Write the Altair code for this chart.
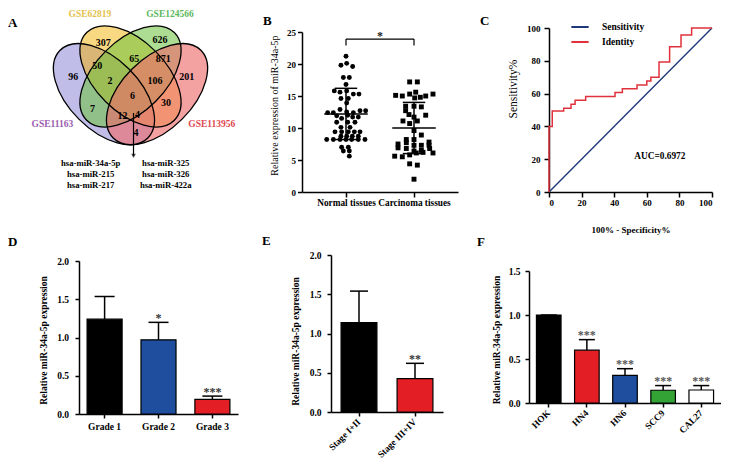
import altair as alt
import pandas as pd

FONT = "Liberation Serif"

# ================= DATA =================
# ---- Panel A: four-set Venn diagram (diagram units 0..1, y up) ----
venn_sets = ["GSE11163", "GSE62819", "GSE124566", "GSE113956"]
venn_cx = [0.35, 0.50, 0.50, 0.65]
venn_cy = [0.47, 0.57, 0.57, 0.47]
venn_tilt = [45, 45, 135, 135]
venn_label_x = [0.059, 0.271, 0.723, 0.959]
venn_label_y = [0.303, 0.923, 0.923, 0.303]
region_counts = ["307", "626", "50", "65", "871", "96", "2", "106", "201",
                 "6", "7", "30", "12", "4", "4"]
region_x = [0.346, 0.667, 0.312, 0.521, 0.685, 0.177, 0.384, 0.638, 0.818,
            0.512, 0.286, 0.701, 0.455, 0.540, 0.531]
region_y = [0.757, 0.776, 0.629, 0.670, 0.667, 0.567, 0.544, 0.544, 0.567,
            0.460, 0.388, 0.418, 0.347, 0.350, 0.249]
arrow_x = [0.517]
arrow_top = [0.363]
arrow_tip = [0.121]
mirna_left = ["hsa-miR-34a-5p", "hsa-miR-215", "hsa-miR-217"]
mirna_right = ["hsa-miR-325", "hsa-miR-326", "hsa-miR-422a"]
mirna_col_x = [0.275, 0.699]
mirna_row_y = [0.083, 0.017, -0.045]

# ---- Panel B: scatter with mean +/- SD ----
b_groups = ["Normal tissues", "Carcinoma tissues"]
normal_vals = [21.2, 19.8, 20.1, 19.6, 17.9, 17.9, 16.8, 15.8, 15.6, 15.8, 15.3, 15.3,
               14.6, 14.6, 13.9, 12.4, 12.4, 12.9, 12.5, 12.4, 12.7, 12.7, 11.9, 11.5,
               12.0, 11.7, 11.7, 10.9, 10.9, 10.9, 10.1, 10.1, 9.4, 9.4, 9.4, 9.4, 9.4,
               8.7, 8.7, 8.7, 8.7, 8.2, 8.2, 8.2, 8.2, 8.2, 8.2, 8.2, 7.0, 7.0, 6.4, 6.4, 5.6]
normal_jit = [0, -0.074, 0.01, 0.098, -0.039, 0.049, 0, -0.172, -0.088, 0.01, 0.108, 0.191,
              -0.074, 0.034, 0.01, -0.27, -0.186, -0.088, 0.01, 0.108, 0.206, 0.289, -0.137, -0.064,
              0.025, 0.098, 0.181, -0.137, 0.025, 0.132, -0.074, 0.059, -0.162, -0.064, 0.034, 0.123, 0.206,
              -0.074, 0.01, 0.093, 0.181, -0.284, -0.186, -0.088, 0, 0.083, 0.181, 0.279, -0.064, 0.034,
              -0.039, 0.049, 0.049]
carc_vals = [17.2, 17.2, 15.1, 15.0, 15.3, 15.6, 14.7, 14.8, 15.0, 15.3, 13.4, 12.7, 13.4, 13.3,
             12.1, 11.7, 12.0, 11.1, 10.7, 11.1, 9.6, 8.9, 8.2, 8.2, 7.8, 7.5, 7.7, 7.3, 7.3, 7.3,
             6.9, 6.8, 6.4, 6.5, 6.8, 5.6, 5.5, 5.8, 6.1, 6.2, 6.1, 4.4, 4.2, 2.0]
carc_jit = [-0.064, 0.049, -0.27, -0.172, -0.064, 0.025, 0.01, 0.093, 0.172, 0.279, -0.123, -0.123,
            0, 0.108, -0.074, 0, 0.172, -0.162, -0.064, 0.049, 0, 0.108, -0.113, 0, 0.221, -0.235,
            -0.113, 0, 0.108, 0.221, -0.235, -0.113, 0, 0.108, 0.23, -0.284, -0.172, -0.064, 0.034,
            0.132, 0.279, -0.064, 0.049, 0]
b_means = [12.2, 10.0]
b_sds = [4.0, 4.0]
b_sig_label = "*"
b_sig_y = 23.9
b_sig_drop = 22.9
b_y_ticks = [0, 5, 10, 15, 20, 25]

# ---- Panel C: ROC curve ----
c_series = ["Sensitivity", "Identity"]
diag_x = [0, 100]
diag_y = [0, 100]
roc_x = [0, 0, 2, 9, 13.5, 16, 22.5, 40.5, 45, 54, 60, 62.5, 67.5, 74, 81, 87.5, 100]
roc_y = [0, 40, 49.4, 51, 53.5, 56, 58.3, 60.6, 63, 65.2, 67.7, 70, 79.3, 88.6, 95.7, 100, 100]
auc_text = ["AUC=0.6972"]
auc_x = [68]
auc_y = [22]
c_ticks = [0, 20, 40, 60, 80, 100]

# ---- Panel D: grades ----
d_cats = ["Grade 1", "Grade 2", "Grade 3"]
d_vals = [1.24, 0.97, 0.19]
d_errs = [0.297, 0.228, 0.044]
d_stars = ["", "*", "***"]

# ---- Panel E: stages ----
e_cats = ["Stage I+II", "Stage III+IV"]
e_vals = [1.14, 0.425]
e_errs = [0.40, 0.195]
e_stars = ["", "**"]

# ---- Panel F: cell lines ----
f_cats = ["HOK", "HN4", "HN6", "SCC9", "CAL27"]
f_vals = [1.0, 0.60, 0.315, 0.145, 0.148]
f_errs = [0.0, 0.12, 0.075, 0.053, 0.05]
f_stars = ["", "***", "***", "***", "***"]

bar_ticks_2 = [0, 0.5, 1.0, 1.5, 2.0]
bar_ticks_15 = [0, 0.5, 1.0, 1.5]
bar_title = "Relative miR-34a-5p expression"

panel_letters = ["A", "B", "C", "D", "E", "F"]

# ================= STYLES =================
venn_fill_colors = ["#6A62C8", "#F2B000", "#6CC23C", "#EE6A6C"]
venn_fill_alpha = [0.6, 0.9, 0.55, 0.6]
venn_label_colors = ["#9A5BAE", "#E3C24A", "#5CB85C", "#E0484F"]
c_colors = ["#1F3A7A", "#E0323C"]
d_colors = ["#000000", "#1F4E9E", "#E31E24"]
e_colors = ["#000000", "#E31E24"]
f_colors = ["#000000", "#E31E24", "#1F4E9E", "#34A335", "#FFFFFF"]

K = 0.5523
RY = 0.2 / 0.35
ELL_PATH = ("M 1 0 C 1 {a:.4f} {k:.4f} {r:.4f} 0 {r:.4f} C {nk:.4f} {r:.4f} -1 {a:.4f} -1 0 "
            "C -1 {na:.4f} {nk:.4f} {nr:.4f} 0 {nr:.4f} C {k:.4f} {nr:.4f} 1 {na:.4f} 1 0 Z").format(
    a=K * RY, k=K, r=RY, nk=-K, na=-K * RY, nr=-RY)
ELL_SIZE = 124 ** 2


def letter_layer(letter, px, py):
    return alt.Chart(pd.DataFrame({"t": [letter]})).mark_text(
        font=FONT, fontWeight="bold", fontSize=13, align="left", baseline="middle", color="black"
    ).encode(text="t:N", x=alt.value(px), y=alt.value(py))


# ================= PANEL A =================
vx = alt.Scale(domain=[0, 1], range=[-37, 140], nice=False, zero=False)
vy = alt.Scale(domain=[0, 1], range=[168.3, -8.7], nice=False, zero=False)
ell_df = pd.DataFrame({"set": venn_sets, "cx": venn_cx, "cy": venn_cy, "tilt": venn_tilt})
ax_x = alt.X("cx:Q", scale=vx, axis=None)
ax_y = alt.Y("cy:Q", scale=vy, axis=None)

ell_fill = alt.Chart(ell_df).mark_point(shape=ELL_PATH, size=ELL_SIZE, filled=True, strokeWidth=0).encode(
    x=ax_x, y=ax_y, angle=alt.Angle("tilt:Q", scale=None),
    fill=alt.Fill("set:N", scale=alt.Scale(domain=venn_sets, range=venn_fill_colors), legend=None),
    fillOpacity=alt.FillOpacity("set:N", scale=alt.Scale(domain=venn_sets, range=venn_fill_alpha), legend=None),
)
ell_line = alt.Chart(ell_df).mark_point(shape=ELL_PATH, size=ELL_SIZE, filled=False, color="black",
                                        strokeWidth=1.3, opacity=1).encode(
    x=ax_x, y=ax_y, angle=alt.Angle("tilt:Q", scale=None))

reg_df = pd.DataFrame({"cx": region_x, "cy": region_y, "n": region_counts})
reg_text = alt.Chart(reg_df).mark_text(font=FONT, fontWeight="bold", fontSize=10, color="black").encode(
    x=ax_x, y=ax_y, text="n:N")

lab_df = pd.DataFrame({"set": venn_sets, "cx": venn_label_x, "cy": venn_label_y})
set_text = alt.Chart(lab_df).mark_text(font=FONT, fontWeight="bold", fontSize=9.5).encode(
    x=ax_x, y=ax_y, text="set:N",
    color=alt.Color("set:N", scale=alt.Scale(domain=venn_sets, range=venn_label_colors), legend=None))

arr_df = pd.DataFrame({"cx": arrow_x, "cy": arrow_top, "cy2": arrow_tip})
arr_rule = alt.Chart(arr_df).mark_rule(color="black", strokeWidth=1.2).encode(x=ax_x, y=ax_y, y2="cy2:Q")
arr_head = alt.Chart(arr_df).mark_point(shape="triangle-down", filled=True, size=22, color="black").encode(
    x=ax_x, y=alt.Y("cy2:Q", scale=vy, axis=None))

mir_rows = []
for col, names in enumerate([mirna_left, mirna_right]):
    for r, nm in enumerate(names):
        mir_rows.append({"cx": mirna_col_x[col], "cy": mirna_row_y[r], "name": nm})
mir_df = pd.DataFrame(mir_rows)
mir_text = alt.Chart(mir_df).mark_text(font=FONT, fontWeight="bold", fontSize=8.7, color="black").encode(
    x=ax_x, y=ax_y, text="name:N")

panel_a = alt.layer(ell_fill, ell_line, reg_text, set_text, arr_rule, arr_head, mir_text,
                    letter_layer(panel_letters[0], -71, 14)).properties(width=223, height=183)

# ================= PANEL B =================
bx = alt.Scale(domain=[0.353, 2.647], range=[0, 156], nice=False, zero=False)
by = alt.Scale(domain=[0, 25], range=[183, 23], nice=False, zero=False)
b_label_expr = "datum.value == 1 ? '{}' : '{}'".format(b_groups[0], b_groups[1])
bx_axis = alt.Axis(values=[1, 2], labelExpr=b_label_expr, title=None, tickSize=5, labelPadding=1,
                   labelFontSize=9.3)
by_axis = alt.Axis(values=b_y_ticks, title="Relative expression of miR-34a-5p", titleFontWeight="normal",
                   titleFontSize=10, tickSize=4.5, labelPadding=2, titlePadding=7, labelFontSize=9,
                   titleY=96)

pts_rows = []
for v, j in zip(normal_vals, normal_jit):
    pts_rows.append({"grp": b_groups[0], "gx": 1, "val": v, "jit": j})
for v, j in zip(carc_vals, carc_jit):
    pts_rows.append({"grp": b_groups[1], "gx": 2, "val": v, "jit": j})
pts_df = pd.DataFrame(pts_rows)

b_points = alt.Chart(pts_df).transform_calculate(xp="datum.gx + datum.jit").mark_point(
    filled=True, size=24, color="black", opacity=1).encode(
    x=alt.X("xp:Q", scale=bx, axis=bx_axis),
    y=alt.Y("val:Q", scale=by, axis=by_axis),
    shape=alt.Shape("grp:N", scale=alt.Scale(domain=b_groups, range=["circle", "square"]), legend=None),
)
sum_df = pd.DataFrame({"gx": [1, 2], "mean": b_means, "sd": b_sds})
sum_base = alt.Chart(sum_df).transform_calculate(
    lo="datum.mean - datum.sd", hi="datum.mean + datum.sd",
    m1="datum.gx - 0.32", m2="datum.gx + 0.32",
    c1="datum.gx - 0.165", c2="datum.gx + 0.165")
b_mean = sum_base.mark_rule(color="black", strokeWidth=1.5).encode(
    x=alt.X("m1:Q", scale=bx, axis=bx_axis), x2="m2:Q", y=alt.Y("mean:Q", scale=by, axis=by_axis))
b_sdline = sum_base.mark_rule(color="black", strokeWidth=1.5).encode(
    x=alt.X("gx:Q", scale=bx, axis=bx_axis), y=alt.Y("lo:Q", scale=by, axis=by_axis), y2="hi:Q")
b_caplo = sum_base.mark_rule(color="black", strokeWidth=1.5).encode(
    x=alt.X("c1:Q", scale=bx, axis=bx_axis), x2="c2:Q", y=alt.Y("lo:Q", scale=by, axis=by_axis))
b_caphi = sum_base.mark_rule(color="black", strokeWidth=1.5).encode(
    x=alt.X("c1:Q", scale=bx, axis=bx_axis), x2="c2:Q", y=alt.Y("hi:Q", scale=by, axis=by_axis))

sig_df = pd.DataFrame({"x1": [1], "x2": [2], "ytop": [b_sig_y], "ydrop": [b_sig_drop], "lab": [b_sig_label]})
sig_base = alt.Chart(sig_df)
sig_h = sig_base.mark_rule(color="black", strokeWidth=1.2).encode(
    x=alt.X("x1:Q", scale=bx, axis=bx_axis), x2="x2:Q", y=alt.Y("ytop:Q", scale=by, axis=by_axis))
sig_l = sig_base.mark_rule(color="black", strokeWidth=1.2).encode(
    x=alt.X("x1:Q", scale=bx, axis=bx_axis), y=alt.Y("ydrop:Q", scale=by, axis=by_axis), y2="ytop:Q")
sig_r = sig_base.mark_rule(color="black", strokeWidth=1.2).encode(
    x=alt.X("x2:Q", scale=bx, axis=bx_axis), y=alt.Y("ydrop:Q", scale=by, axis=by_axis), y2="ytop:Q")
sig_t = sig_base.transform_calculate(xm="(datum.x1 + datum.x2) / 2").mark_text(
    font=FONT, fontWeight="bold", fontSize=12, baseline="alphabetic", dy=1, color="#222").encode(
    x=alt.X("xm:Q", scale=bx, axis=bx_axis), y=alt.Y("ytop:Q", scale=by, axis=by_axis), text="lab:N")

panel_b = alt.layer(b_points, b_mean, b_sdline, b_caplo, b_caphi, sig_h, sig_l, sig_r, sig_t,
                    letter_layer(panel_letters[1], -39, 12)).properties(width=247, height=183)

# ================= PANEL C =================
cxs = alt.Scale(domain=[0, 100], range=[0, 163], nice=False, zero=False)
cys = alt.Scale(domain=[0, 100], range=[183, 19], nice=False, zero=False)
cx_axis = alt.Axis(values=c_ticks, title="100% - Specificity%", tickSize=5, labelPadding=1,
                   titlePadding=18, titleFontSize=9, labelFontSize=9)
cy_axis = alt.Axis(values=c_ticks, title="Sensitivity%", titleFontWeight="normal", titleFontSize=11.5,
                   tickSize=5, labelPadding=4, titlePadding=8, labelFontSize=9, titleY=79.5)
c_legend = alt.Legend(orient="none", legendX=21, legendY=8, title=None, symbolType="stroke",
                      symbolStrokeWidth=2, symbolSize=300, labelFont=FONT, labelFontWeight="bold",
                      labelFontSize=9.5, labelColor="black", padding=0, rowPadding=-2, labelOffset=12)
c_color = alt.Color("series:N", scale=alt.Scale(domain=c_series, range=c_colors), legend=c_legend)

diag_df = pd.DataFrame({"series": c_series[0], "fx": diag_x, "sy": diag_y, "i": list(range(len(diag_x)))})
roc_df = pd.DataFrame({"series": c_series[1], "fx": roc_x, "sy": roc_y, "i": list(range(len(roc_x)))})
c_diag = alt.Chart(diag_df).mark_line(strokeWidth=1.4).encode(
    x=alt.X("fx:Q", scale=cxs, axis=cx_axis), y=alt.Y("sy:Q", scale=cys, axis=cy_axis),
    color=c_color, order="i:Q")
c_roc = alt.Chart(roc_df).mark_line(strokeWidth=1.5, interpolate="step-after").encode(
    x=alt.X("fx:Q", scale=cxs, axis=cx_axis), y=alt.Y("sy:Q", scale=cys, axis=cy_axis),
    color=c_color, order="i:Q")
auc_df = pd.DataFrame({"fx": auc_x, "sy": auc_y, "t": auc_text})
c_auc = alt.Chart(auc_df).mark_text(font=FONT, fontWeight="bold", fontSize=9.3, color="black").encode(
    x=alt.X("fx:Q", scale=cxs, axis=cx_axis), y=alt.Y("sy:Q", scale=cys, axis=cy_axis), text="t:N")

panel_c = alt.layer(c_diag, c_roc, c_auc, letter_layer(panel_letters[2], -69, 12)).properties(
    width=130, height=183)


# ================= BAR PANELS =================
def bar_panel(cats, vals, errs, stars, colors, ydom, yticks, yrange, xrange, pin, pout,
              width, height, cap, angle, ytitle_y, ylab_pad, ytitle_pad, letter, lpos, star_color):
    df = pd.DataFrame({"cat": cats, "val": vals, "err": errs, "star": stars})
    xs = alt.Scale(type="band", domain=cats, range=xrange, paddingInner=pin, paddingOuter=pout)
    ys = alt.Scale(domain=ydom, range=yrange, nice=False, zero=True)
    if angle:
        xa = alt.Axis(title=None, tickSize=4, labelAngle=-45, labelAlign="right", labelBaseline="middle",
                      labelPadding=4, labelFontSize=9.3)
    else:
        xa = alt.Axis(title=None, tickSize=4, labelAngle=0, labelPadding=3, labelFontSize=9.5)
    ya = alt.Axis(values=yticks, format=".1f", title=bar_title, tickSize=4, labelPadding=ylab_pad,
                  titlePadding=ytitle_pad, labelFontSize=9.5, titleFontSize=9.5, titleY=ytitle_y)
    X = alt.X("cat:N", scale=xs, axis=xa, sort=cats)
    base = alt.Chart(df).transform_calculate(hi="datum.val + datum.err")
    bars = base.mark_bar(stroke="black", strokeWidth=1.2).encode(
        x=X, y=alt.Y("val:Q", scale=ys, axis=ya),
        color=alt.Color("cat:N", scale=alt.Scale(domain=cats, range=colors), legend=None))
    err = base.mark_rule(color="black", strokeWidth=1.5).encode(
        x=X, y=alt.Y("val:Q", scale=ys, axis=ya), y2="hi:Q")
    capm = base.mark_tick(color="black", thickness=1.5, size=cap, opacity=1).encode(
        x=X, y=alt.Y("hi:Q", scale=ys, axis=ya))
    st = base.mark_text(font=FONT, fontWeight="bold", fontSize=12, baseline="alphabetic", dy=-0.5,
                        color=star_color).encode(
        x=X, y=alt.Y("hi:Q", scale=ys, axis=ya), text="star:N")
    return alt.layer(bars, err, capm, st, letter_layer(letter, lpos[0], lpos[1])).properties(
        width=width, height=height)


panel_d = bar_panel(d_cats, d_vals, d_errs, d_stars, d_colors, [0, 2], bar_ticks_2, [222, 69], [0, 159],
                    0.35, 0.15, 252, 222, 20, False, 148, 6.5, 8, panel_letters[3], (-71, 50), "#333333")
panel_e = bar_panel(e_cats, e_vals, e_errs, e_stars, e_colors, [0, 2], bar_ticks_2, [220, 63], [0, 112],
                    0.36, 0.18, 198, 220, 18, True, 149, 6, 9, panel_letters[4], (-69, 49), "#333333")
panel_f = bar_panel(f_cats, f_vals, f_errs, f_stars, f_colors, [0, 1.5], bar_ticks_15, [211, 79], [0, 192],
                    0.355, 0.195, 130, 211, 16, True, 147.5, 5, 7, panel_letters[5], (-52, 50), "#555555")

RES = dict(color="independent", fill="independent", shape="independent", fillOpacity="independent")

row1 = alt.hconcat(panel_a, panel_b, panel_c, spacing=0, bounds="flush").resolve_scale(**RES)
row2 = alt.hconcat(panel_d, panel_e, panel_f, spacing=0, bounds="flush").resolve_scale(**RES)

# flush stacking: the gap equals the height of the first row's panels
chart = alt.vconcat(row1, row2, spacing=183, bounds="flush", padding=0).resolve_scale(**RES).configure_view(
    stroke=None
).configure_axis(
    grid=False, domainColor="black", domainWidth=1.5, tickColor="black", tickWidth=1.5,
    labelFont=FONT, titleFont=FONT, labelColor="black", titleColor="black",
    labelFontWeight="bold", titleFontWeight="bold", labelFontSize=9, titleFontSize=9.5,
)

chart.save("out.html", embed_options={"renderer": "svg", "actions": False})
